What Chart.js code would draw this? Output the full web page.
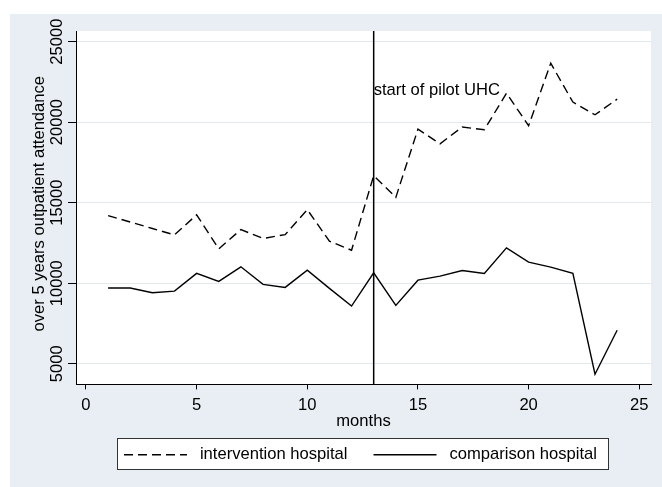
<!DOCTYPE html>
<html>
<head>
<meta charset="utf-8">
<script src="https://cdn.jsdelivr.net/npm/chart.js@4.4.1/dist/chart.umd.min.js"></script>
<style>
  html, body { margin: 0; padding: 0; background: #fff; }
</style>
</head>
<body>
<canvas id="myChart" width="662" height="487"></canvas>
<script>
// Datos
const months = [1, 2, 3, 4, 5, 6, 7, 8, 9, 10, 11, 12, 13, 14, 15, 16, 17, 18, 19, 20, 21, 22, 23, 24];
const intervention = [14200, 13800, 13400, 13000, 14250, 12130, 13330, 12780, 13020, 14570, 12610, 12050,
                      16680, 15330, 19570, 18660, 19700, 19530, 21800, 19780, 23660, 21250, 20460, 21430];
const comparison = [9700, 9700, 9410, 9510, 10610, 10110, 11020, 9930, 9740, 10810, 9680, 8580,
                    10650, 8620, 10190, 10440, 10790, 10610, 12200, 11310, 11000, 10610, 4350, 7080];
const xTicks = [0, 5, 10, 15, 20, 25];
const yTicks = [5000, 10000, 15000, 20000, 25000];
const pilotMonth = 13;
const pilotLabel = "start of pilot UHC";
const pilotLabelY = 22000;

const FONT_FAMILY = '"Liberation Sans", Arial, Helvetica, sans-serif';
const FONT_SIZE = 16.6;
const FONT = FONT_SIZE + 'px ' + FONT_FAMILY;

function toPoints(values) {
  return months.map((m, i) => ({ x: m, y: values[i] }));
}

// Fondo estilo Stata, marco de leyenda, etiquetas del eje y, linea vertical
const stataLook = {
  id: "stataLook",
  beforeDraw(chart) {
    const { ctx, chartArea: a } = chart;
    ctx.save();
    ctx.fillStyle = "#E8EEF3";
    ctx.fillRect(10, 14, chart.width - 10, chart.height - 14);
    ctx.fillStyle = "#fff";
    ctx.fillRect(a.left, a.top, a.right - a.left, a.bottom - a.top);

    const hb = chart.legend.legendHitBoxes;
    if (hb && hb.length) {
      const first = hb[0];
      const last = hb[hb.length - 1];
      const left = Math.round(first.left - 7);
      const right = Math.round(last.left + last.width + 11);
      const top = Math.round(first.top - 8);
      ctx.fillStyle = "#fff";
      ctx.fillRect(left, top, right - left, 31);
      ctx.strokeStyle = "#333";
      ctx.lineWidth = 1;
      ctx.strokeRect(left + 0.5, top + 0.5, right - left, 31);
    }
    ctx.restore();
  },
  afterDraw(chart) {
    const { ctx, chartArea: a } = chart;
    const xs = chart.scales.x;
    const ys = chart.scales.y;
    ctx.save();
    ctx.fillStyle = "#000";
    ctx.font = FONT;
    ctx.textAlign = "center";
    ctx.textBaseline = "middle";
    ys.ticks.forEach((t) => {
      const py = ys.getPixelForValue(t.value);
      ctx.save();
      ctx.translate(a.left - 19, py);
      ctx.rotate(-Math.PI / 2);
      ctx.fillText(String(t.value), 0, 0);
      ctx.restore();
    });
    ctx.save();
    ctx.translate(a.left - 37, (a.top + a.bottom) / 2 - 4);
    ctx.rotate(-Math.PI / 2);
    ctx.fillText("over 5 years outpatient attendance", 0, 0);
    ctx.restore();

    const px = xs.getPixelForValue(pilotMonth);
    ctx.strokeStyle = "#000";
    ctx.lineWidth = 1.5;
    ctx.beginPath();
    ctx.moveTo(px, a.top);
    ctx.lineTo(px, a.bottom);
    ctx.stroke();

    ctx.textAlign = "left";
    ctx.fillText(pilotLabel, px, ys.getPixelForValue(pilotLabelY));
    ctx.restore();
  },
};

const ctx = document.getElementById("myChart").getContext("2d");
new Chart(ctx, {
  type: "line",
  data: {
    datasets: [
      {
        label: "intervention hospital",
        data: toPoints(intervention),
        borderColor: "#000",
        backgroundColor: "#000",
        borderWidth: 1.4,
        borderDash: [9, 5],
        pointRadius: 0,
        fill: false,
        tension: 0,
      },
      {
        label: "comparison hospital",
        data: toPoints(comparison),
        borderColor: "#000",
        backgroundColor: "#000",
        borderWidth: 1.4,
        pointRadius: 0,
        fill: false,
        tension: 0,
      },
    ],
  },
  options: {
    responsive: false,
    animation: false,
    layout: { padding: { left: 70, right: 11, top: 31, bottom: 14 } },
    plugins: {
      tooltip: { enabled: false },
      legend: {
        position: "bottom",
        align: "center",
        labels: {
          usePointStyle: true,
          pointStyle: "line",
          pointStyleWidth: 63,
          padding: 26,
          color: "#000",
          font: { size: FONT_SIZE, family: FONT_FAMILY },
          generateLabels(chart) {
            const items = Chart.defaults.plugins.legend.labels.generateLabels(chart);
            items.forEach((it) => {
              it.text = " " + it.text;
              it.lineWidth = 1.4;
              it.strokeStyle = "#000";
              it.lineDash = chart.data.datasets[it.datasetIndex].borderDash || [];
            });
            return items;
          },
        },
      },
    },
    scales: {
      x: {
        type: "linear",
        min: -0.45,
        max: 25.53,
        afterFit(scale) { scale.height = 36; },
        afterBuildTicks(scale) { scale.ticks = xTicks.map((v) => ({ value: v })); },
        ticks: { color: "#000", font: { size: FONT_SIZE, family: FONT_FAMILY }, padding: 6, maxRotation: 0 },
        grid: { drawOnChartArea: false, color: "#000", tickColor: "#000", tickLength: 5 },
        border: { display: true, color: "#000", width: 1 },
        title: {
          display: true,
          text: "months",
          color: "#000",
          font: { size: FONT_SIZE, family: FONT_FAMILY },
          padding: { top: 0, bottom: -11 },
        },
      },
      y: {
        min: 3717,
        max: 25663,
        afterFit(scale) { scale.width = 6; },
        afterBuildTicks(scale) { scale.ticks = yTicks.map((v) => ({ value: v })); },
        ticks: { display: false },
        grid: { color: "#E1E8EE", lineWidth: 1, tickColor: "#000", tickLength: 8 },
        border: { display: true, color: "#000", width: 1 },
      },
    },
  },
  plugins: [stataLook],
});
</script>
</body>
</html>
